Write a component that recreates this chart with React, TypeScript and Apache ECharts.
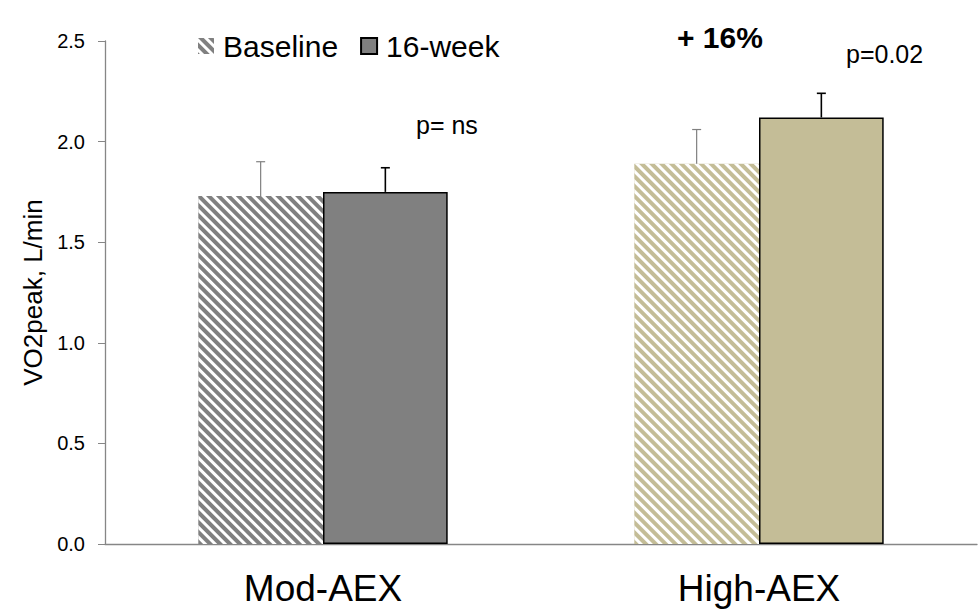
import React, { useEffect, useRef } from "react";
import * as echarts from "echarts";

const categories = ["Mod-AEX", "High-AEX"];
const seriesNames = ["Baseline", "16-week"];
const baselineValues = [1.73, 1.89];
const baselineErrTop = [1.9, 2.06];
const week16Values = [1.75, 2.12];
const week16ErrTop = [1.87, 2.24];
const groupColors = ["#808080", "#c4bd97"];
const yTicks = [0, 0.5, 1.0, 1.5, 2.0, 2.5];

const stripeDecal = {
  symbol: "rect",
  symbolSize: 1,
  color: "#ffffff",
  dashArrayX: [1, 0],
  dashArrayY: [2.3, 3.7],
  rotation: Math.PI / 4,
};

const HALF = 0.143;

export default function App() {
  const ref = useRef<HTMLDivElement>(null);
  useEffect(() => {
    const chart = echarts.init(ref.current!, null, { renderer: "svg" });
    const errSeries = (tops: number[], vals: number[], offset: number, stroke: string, lw: number) => ({
      type: "custom",
      silent: true,
      z: 5,
      data: tops.map((t, i) => [i, t, vals[i]]),
      renderItem: (params: any, api: any) => {
        const cat = api.value(0);
        const base = api.coord([cat, api.value(2)]);
        const top = api.coord([cat, api.value(1)]);
        const band = api.size([1, 0])[0];
        const x = base[0] + offset * band;
        const style = { stroke, lineWidth: lw };
        return {
          type: "group",
          children: [
            { type: "line", shape: { x1: x, y1: base[1], x2: x, y2: top[1] }, style },
            { type: "line", shape: { x1: x - 4.5, y1: top[1], x2: x + 4.5, y2: top[1] }, style },
          ],
        };
      },
    });
    chart.setOption({
      animation: false,
      backgroundColor: "#ffffff",
      textStyle: { fontFamily: "Liberation Sans, Arial, sans-serif" },
      grid: { left: 105, right: 3, top: 41, bottom: 65, containLabel: false },
      legend: {
        left: 193,
        top: 26,
        itemWidth: 16,
        itemHeight: 16,
        itemGap: 22,
        icon: "rect",
        data: seriesNames,
        textStyle: { fontSize: 30, color: "#000", padding: [0, 0, 0, 4] },
      },
      xAxis: {
        type: "category",
        data: categories,
        axisLine: { lineStyle: { color: "#868686", width: 1.3 } },
        axisTick: { show: false },
        axisLabel: { fontSize: 37, color: "#000", margin: 26 },
      },
      yAxis: {
        type: "value",
        min: 0,
        max: 2.5,
        interval: 0.5,
        name: "VO2peak, L/min",
        nameLocation: "middle",
        nameGap: 52,
        nameTextStyle: { fontSize: 26, color: "#000" },
        axisLine: { show: true, lineStyle: { color: "#868686", width: 1.3 } },
        axisTick: { show: true, length: 7, lineStyle: { color: "#868686" } },
        splitLine: { show: false },
        axisLabel: {
          fontSize: 20,
          color: "#000",
          margin: 20,
          formatter: (v: number) => (yTicks.includes(v) ? v.toFixed(1) : ""),
        },
      },
      series: [
        {
          name: seriesNames[0],
          type: "bar",
          barGap: "0%",
          barCategoryGap: "42.8%",
          itemStyle: { color: groupColors[0], decal: stripeDecal, borderWidth: 0 },
          data: baselineValues.map((v, i) => ({
            value: v,
            itemStyle: { color: groupColors[i], decal: stripeDecal },
          })),
        },
        {
          name: seriesNames[1],
          type: "bar",
          barGap: "0%",
          barCategoryGap: "42.8%",
          itemStyle: { color: groupColors[0], borderColor: "#000", borderWidth: 1.5 },
          data: week16Values.map((v, i) => ({
            value: v,
            itemStyle: { color: groupColors[i], borderColor: "#000", borderWidth: 1.5 },
          })),
        },
        errSeries(baselineErrTop, baselineValues, -HALF, "#808080", 1.2),
        errSeries(week16ErrTop, week16Values, HALF, "#000000", 1.6),
      ],
      graphic: [
        {
          type: "text",
          left: 677,
          top: 22,
          style: { text: "+ 16%", font: "bold 30px Liberation Sans, Arial, sans-serif", fill: "#000" },
        },
        {
          type: "text",
          left: 846,
          top: 41,
          style: { text: "p=0.02", font: "25px Liberation Sans, Arial, sans-serif", fill: "#000" },
        },
        {
          type: "text",
          left: 416,
          top: 112,
          style: { text: "p= ns", font: "25px Liberation Sans, Arial, sans-serif", fill: "#000" },
        },
      ],
    });
    return () => chart.dispose();
  }, []);
  return (
    <div
      ref={ref}
      style={{ position: "fixed", left: 0, top: 0, width: 980, height: 609, background: "#fff" }}
    />
  );
}
